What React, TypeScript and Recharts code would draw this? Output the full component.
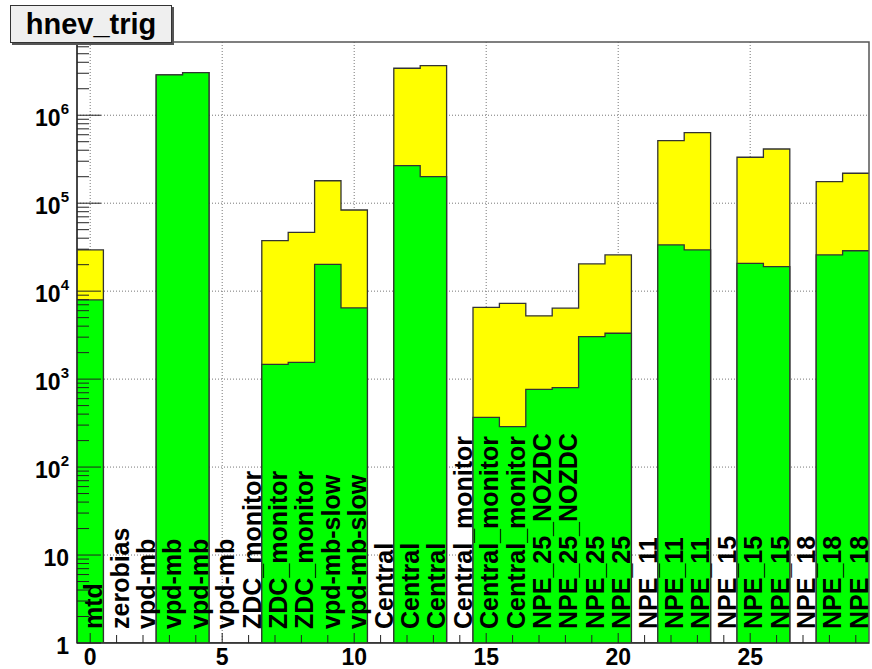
import {
  ComposedChart,
  Area,
  Scatter,
  XAxis,
  YAxis,
  CartesianGrid,
  ReferenceArea,
} from "recharts";

// trigger name for each bin of hnev_trig
const binLabels = [
  "mtd", "zerobias", "vpd-mb", "vpd-mb", "vpd-mb", "vpd-mb",
  "ZDC_monitor", "ZDC_monitor", "ZDC_monitor", "vpd-mb-slow", "vpd-mb-slow",
  "Central", "Central", "Central",
  "Central_monitor", "Central_monitor", "Central_monitor",
  "NPE_25_NOZDC", "NPE_25_NOZDC", "NPE_25", "NPE_25",
  "NPE_11", "NPE_11", "NPE_11",
  "NPE_15", "NPE_15", "NPE_15",
  "NPE_18", "NPE_18", "NPE_18",
];

// all events per trigger (yellow)
const allEvents = [
  29400, 0, 0, 2870000, 3050000, 0, 0, 37500, 46700, 180000, 83700,
  0, 3420000, 3660000, 0, 6530, 7250, 5240, 6400, 20400, 25800,
  0, 514000, 634000, 0, 333000, 413000, 0, 176000, 219000,
];

// events passing the selection (green)
const passedEvents = [
  7940, 0, 0, 2870000, 3050000, 0, 0, 1473, 1553, 20200, 6440,
  0, 267000, 200000, 0, 368, 288, 766, 799, 3035, 3320,
  0, 33500, 29400, 0, 20700, 19000, 0, 25800, 28800,
];

const xTicks = binLabels.map((_, i) => i);
const xLabelTicks = [0, 5, 10, 15, 20, 25];
const yDecades = [1, 10, 100, 1e3, 1e4, 1e5, 1e6];
const Y_MAX = 6.8e6;
const X_MIN = -0.5;
const X_MAX = binLabels.length - 0.5;

const yTicks = yDecades
  .flatMap((d) => [1, 2, 3, 4, 5, 6, 7, 8, 9].map((m) => m * d))
  .filter((v) => v <= Y_MAX);

// log axis can't show empty bins, clamp them onto the axis floor
const floor = (v: number) => Math.max(v, 1);

// step areas need a point at every bin's low edge plus the last high edge
const histData = binLabels.map((_, i) => ({
  x: i - 0.5,
  all: floor(allEvents[i]),
  pass: floor(passedEvents[i]),
}));
histData.push({
  x: X_MAX,
  all: floor(allEvents[allEvents.length - 1]),
  pass: floor(passedEvents[passedEvents.length - 1]),
});

const labelData = binLabels.map((name, i) => ({ x: i, y: 1, name }));

const FONT = "'Liberation Sans', Arial, Helvetica, sans-serif";

function YTick(props: any) {
  const { x, y, payload } = props;
  const v = payload.value as number;
  const exp = Math.round(Math.log10(v));
  const isDecade = Math.abs(Math.log10(v) - exp) < 1e-9;
  return (
    <g>
      <line x1={x} y1={y} x2={x + (isDecade ? 24 : 12)} y2={y} stroke="#222" strokeWidth={1} />
      {isDecade && (
        <text
          x={x - 8}
          y={y + 11}
          textAnchor="end"
          fontFamily={FONT}
          fontWeight="bold"
          fontSize={23}
          fill="#000">
          {exp === 0 ? "1" : "10"}
          {exp > 1 && (
            <tspan dy={-12} fontSize={15}>
              {exp}
            </tspan>
          )}
        </text>
      )}
    </g>
  );
}

function XTick(props: any) {
  const { x, y, payload } = props;
  const v = payload.value as number;
  const major = v % 5 === 0;
  return (
    <g>
      <line x1={x} y1={y} x2={x} y2={y - (major ? 10 : 8)} stroke="#222" strokeWidth={1} />
      {major && (
        <text
          x={x}
          y={y + 22}
          textAnchor="middle"
          fontFamily={FONT}
          fontWeight="bold"
          fontSize={23}
          fill="#000">
          {v}
        </text>
      )}
    </g>
  );
}

function BinLabel(props: any) {
  const { cx, cy, payload } = props;
  return (
    <text
      transform={`rotate(-90 ${cx} ${cy})`}
      x={cx + 14}
      y={cy + 12}
      textAnchor="start"
      fontFamily={FONT}
      fontWeight="bold"
      fontSize={25}
      fill="#000">
      {payload.name}
    </text>
  );
}

export default function App() {
  return (
    <div
      style={{
        position: "absolute",
        left: 0,
        top: 0,
        width: 872,
        height: 669,
        background: "#fff",
      }}>
      <ComposedChart
        width={872}
        height={669}
        data={histData}
        margin={{ top: 42, right: 3, bottom: 0, left: 0 }}>
        <CartesianGrid
          stroke="#777"
          strokeDasharray="1 2"
          horizontalValues={yDecades.slice(1)}
          verticalValues={xLabelTicks}
        />
        <Area
          type="stepAfter"
          dataKey="all"
          baseValue={1}
          fill="#ffff00"
          fillOpacity={1}
          stroke="#333"
          strokeWidth={1.3}
          dot={false}
          activeDot={false}
          isAnimationActive={false}
        />
        <Area
          type="stepAfter"
          dataKey="pass"
          baseValue={1}
          fill="#00ff00"
          fillOpacity={1}
          stroke="#333"
          strokeWidth={1.3}
          dot={false}
          activeDot={false}
          isAnimationActive={false}
        />
        <Scatter
          data={labelData}
          dataKey="y"
          shape={(p: any) => <BinLabel {...p} />}
          isAnimationActive={false}
        />
        <ReferenceArea
          x1={X_MIN}
          x2={X_MAX}
          y1={1}
          y2={Y_MAX}
          fill="none"
          stroke="#555"
          strokeWidth={1.5}
          ifOverflow="visible"
        />
        <XAxis
          type="number"
          dataKey="x"
          domain={[X_MIN, X_MAX]}
          allowDataOverflow
          ticks={xTicks}
          interval={0}
          tick={(p: any) => <XTick {...p} />}
          tickLine={false}
          tickSize={0}
          tickMargin={0}
          height={26}
          axisLine={{ stroke: "#222", strokeWidth: 1.2 }}
        />
        <YAxis
          type="number"
          scale="log"
          domain={[1, Y_MAX]}
          allowDataOverflow
          ticks={yTicks}
          interval={0}
          tick={(p: any) => <YTick {...p} />}
          tickLine={false}
          tickSize={0}
          tickMargin={0}
          width={77}
          axisLine={{ stroke: "#222", strokeWidth: 1.2 }}
        />
      </ComposedChart>
      <div
        style={{
          position: "absolute",
          left: 10,
          top: 5,
          width: 160,
          height: 36,
          background: "#efefef",
          border: "1px solid #333",
          boxShadow: "2px 2px 0 #555",
          fontFamily: FONT,
          fontWeight: "bold",
          fontSize: 29,
          lineHeight: "36px",
          textAlign: "center",
          color: "#000",
        }}>
        hnev_trig
      </div>
    </div>
  );
}
